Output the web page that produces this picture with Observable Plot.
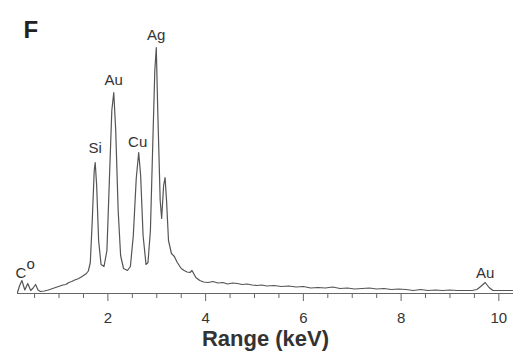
<!DOCTYPE html>
<html>
<head>
<meta charset="utf-8">
<script src="https://cdn.jsdelivr.net/npm/d3@7"></script>
<script src="https://cdn.jsdelivr.net/npm/@observablehq/plot@0.6"></script>
<style>
  html, body { margin: 0; padding: 0; background: #fff; }
  #chart svg { display: block; }
</style>
</head>
<body>
<div id="chart"></div>
<script>
// EDS spectrum: energy (keV) and counts (arbitrary units)
const energy = [
  0.15, 0.19, 0.24, 0.30, 0.36, 0.42, 0.47, 0.52, 0.57, 0.62, 0.70, 0.78, 0.84, 0.90, 0.96, 1.02, 1.08, 1.14, 1.20, 1.26,
  1.32, 1.38, 1.44, 1.50, 1.56, 1.60, 1.64, 1.68, 1.72, 1.74, 1.77, 1.81, 1.86, 1.92, 1.98, 2.03, 2.08, 2.12, 2.16, 2.21,
  2.26, 2.32, 2.36, 2.40, 2.46, 2.52, 2.58, 2.63, 2.67, 2.72, 2.78, 2.82, 2.87, 2.92, 2.96, 2.99, 3.02, 3.07, 3.10, 3.14,
  3.17, 3.20, 3.24, 3.30, 3.36, 3.42, 3.50, 3.56, 3.62, 3.68, 3.72, 3.80, 3.88, 3.96, 4.05, 4.15, 4.25, 4.35, 4.45, 4.55,
  4.65, 4.75, 4.85, 4.95, 5.05, 5.15, 5.25, 5.40, 5.55, 5.70, 5.85, 6.00, 6.15, 6.30, 6.45, 6.60, 6.75, 6.90, 7.05, 7.20,
  7.35, 7.50, 7.65, 7.80, 7.95, 8.10, 8.25, 8.40, 8.55, 8.70, 8.85, 9.00, 9.15, 9.30, 9.45, 9.55, 9.63, 9.72, 9.80, 9.88,
  9.96, 10.10, 10.30
];
const counts = [
  4, 30, 52, 14, 40, 12, 22, 36, 14, 8, 10, 14, 18, 22, 26, 30, 34, 36, 44, 48,
  54, 58, 64, 72, 80, 90, 124, 292, 492, 524, 432, 212, 116, 108, 172, 452, 732, 804, 652, 332,
  152, 100, 96, 92, 108, 232, 460, 564, 472, 232, 116, 124, 252, 612, 892, 984, 732, 372, 300, 432,
  464, 372, 212, 160, 148, 124, 100, 92, 86, 84, 92, 64, 52, 46, 44, 48, 42, 44, 38, 42,
  40, 36, 38, 34, 32, 34, 30, 32, 28, 30, 26, 28, 22, 24, 22, 26, 20, 22, 18, 20,
  22, 18, 20, 16, 18, 16, 12, 16, 12, 14, 12, 14, 12, 12, 12, 16, 28, 44, 24, 12,
  12, 12, 12
];

// Peak annotations
const peakNames = ["C", "o", "Si", "Au", "Cu", "Ag", "Au"];
const peakEnergy = [0.22, 0.42, 1.74, 2.12, 2.61, 2.99, 9.72];
const peakLabelY = [80, 118, 580, 852, 604, 1032, 80];

// Axis ticks
const majorTicks = [2, 4, 6, 8, 10];
const minorTicks = [0.5, 1, 1.5, 2.5, 3, 3.5, 4.5, 5, 5.5, 6.5, 7, 7.5, 8.5, 9, 9.5];

const spectrum = energy.map((e, i) => ({energy: e, counts: counts[i]}));
const peaks = peakNames.map((n, i) => ({name: n, energy: peakEnergy[i], y: peakLabelY[i]}));

const chart = Plot.plot({
  width: 513,
  height: 361,
  marginLeft: 17,
  marginRight: 0,
  marginTop: 47,
  marginBottom: 68,
  style: {fontFamily: "Liberation Sans, Arial, sans-serif", color: "#333", background: "#fff"},
  x: {domain: [0.15, 10.3]},
  y: {domain: [0, 984], axis: null},
  marks: [
    Plot.ruleY([0], {stroke: "#666", strokeWidth: 1.2}),
    Plot.axisX({ticks: minorTicks, tickSize: 5, tickFormat: () => "", stroke: "#666", label: null}),
    Plot.axisX({ticks: majorTicks, tickSize: 8, tickPadding: 11, fontSize: 15, stroke: "#666", fill: "#333", label: null}),
    Plot.line(spectrum, {x: "energy", y: "counts", stroke: "#555", strokeWidth: 1.2}),
    Plot.text(peaks, {x: "energy", y: "y", text: "name", fontSize: 15, fill: "#333"}),
    Plot.text(["Range (keV)"], {frameAnchor: "bottom", dy: 52, fontSize: 22, fontWeight: "bold", fill: "#333"}),
    Plot.text(["F"], {frameAnchor: "top-left", dx: 6, dy: -27, fontSize: 24, fontWeight: "bold", fill: "#222"})
  ]
});
document.getElementById("chart").appendChild(chart);
</script>
</body>
</html>
